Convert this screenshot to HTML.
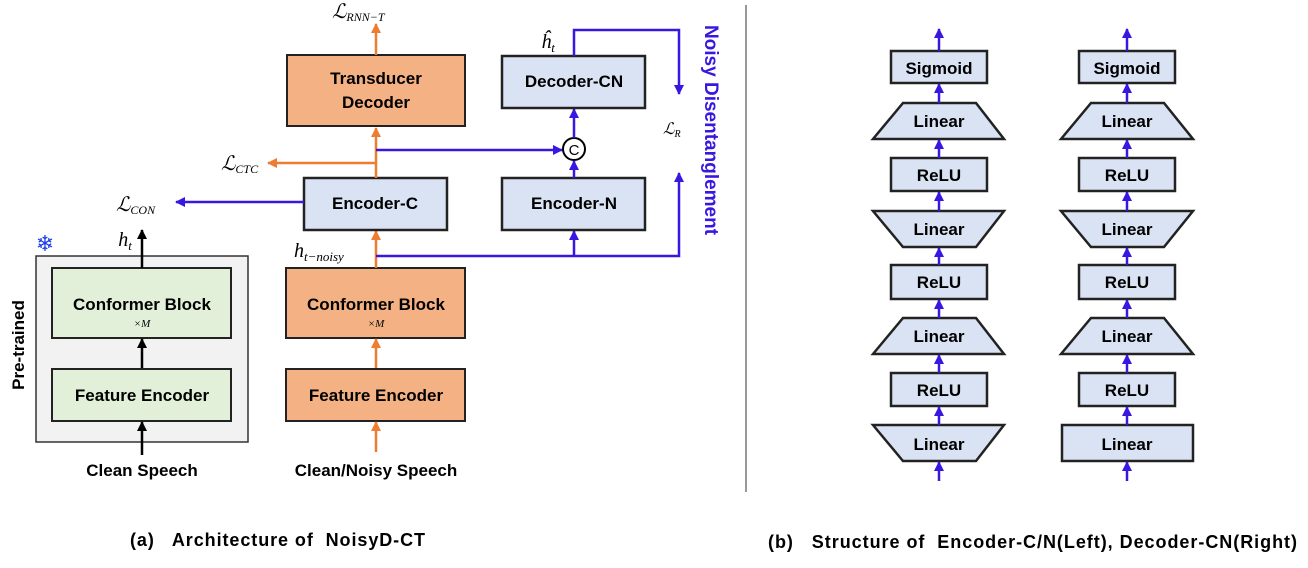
<!DOCTYPE html>
<html><head><meta charset="utf-8"><style>
body{margin:0;background:#fff}
svg text{font-family:"Liberation Sans",sans-serif}
.b{font-weight:bold;font-size:17px;fill:#000}
.m{font-family:"Liberation Serif",serif;font-style:italic}
.cap{white-space:pre}
</style></head><body>
<svg width="1308" height="563" viewBox="0 0 1308 563" xmlns="http://www.w3.org/2000/svg">
<defs>
<marker id="ab" markerWidth="10" markerHeight="10" refX="9" refY="5" orient="auto" markerUnits="userSpaceOnUse"><path d="M0,0 L10,5 L0,10 z" fill="#3a17e0"/></marker>
<marker id="ao" markerWidth="10" markerHeight="10" refX="9" refY="5" orient="auto" markerUnits="userSpaceOnUse"><path d="M0,0 L10,5 L0,10 z" fill="#ed7d31"/></marker>
<marker id="ak" markerWidth="10" markerHeight="10" refX="9" refY="5" orient="auto" markerUnits="userSpaceOnUse"><path d="M0,0 L10,5 L0,10 z" fill="#000"/></marker>
</defs>
<!-- pretrained -->
<rect x="36" y="256" width="212" height="186" fill="#f2f2f2" stroke="#333" stroke-width="1.5"/>
<rect x="52" y="268" width="179" height="70" fill="#e2f0d9" stroke="#222" stroke-width="2"/>
<text x="142" y="310" class="b" text-anchor="middle">Conformer Block</text>
<text x="142" y="327" font-size="11" class="m" text-anchor="middle">×M</text>
<rect x="52" y="369" width="179" height="52" fill="#e2f0d9" stroke="#222" stroke-width="2"/>
<text x="142" y="401" class="b" text-anchor="middle">Feature Encoder</text>
<text transform="translate(24,345) rotate(-90)" class="b" text-anchor="middle">Pre-trained</text>
<text x="45" y="251" font-size="22" fill="#1a3ee8" text-anchor="middle">❄</text>
<line x1="142" y1="455" x2="142" y2="422" stroke="#000" stroke-width="2.5" marker-end="url(#ak)"/>
<line x1="142" y1="368" x2="142" y2="339" stroke="#000" stroke-width="2.5" marker-end="url(#ak)"/>
<line x1="142" y1="268" x2="142" y2="230" stroke="#000" stroke-width="2.5" marker-end="url(#ak)"/>
<text x="125" y="246" font-size="20" class="m" text-anchor="middle">h<tspan font-size="13" dy="4">t</tspan></text>
<text x="142" y="476" class="b" text-anchor="middle">Clean Speech</text>
<!-- orange stack -->
<rect x="286" y="268" width="179" height="70" fill="#f4b183" stroke="#222" stroke-width="2"/>
<text x="376" y="310" class="b" text-anchor="middle">Conformer Block</text>
<text x="376" y="327" font-size="11" class="m" text-anchor="middle">×M</text>
<rect x="286" y="369" width="179" height="52" fill="#f4b183" stroke="#222" stroke-width="2"/>
<text x="376" y="401" class="b" text-anchor="middle">Feature Encoder</text>
<text x="376" y="476" class="b" text-anchor="middle">Clean/Noisy Speech</text>
<line x1="376" y1="452" x2="376" y2="422" stroke="#ed7d31" stroke-width="2.5" marker-end="url(#ao)"/>
<line x1="376" y1="368" x2="376" y2="339" stroke="#ed7d31" stroke-width="2.5" marker-end="url(#ao)"/>
<line x1="376" y1="268" x2="376" y2="231" stroke="#ed7d31" stroke-width="2.5" marker-end="url(#ao)"/>
<text x="294" y="257" font-size="20" class="m">h<tspan font-size="13" dy="4">t−noisy</tspan></text>
<polyline points="376,256 679,256 679,173" fill="none" stroke="#3a17e0" stroke-width="2.5" marker-end="url(#ab)"/>
<line x1="574" y1="256" x2="574" y2="231" stroke="#3a17e0" stroke-width="2.5" marker-end="url(#ab)"/>
<!-- encoders -->
<rect x="304" y="178" width="143" height="52" fill="#dae3f3" stroke="#222" stroke-width="2.5"/>
<text x="375" y="209" class="b" text-anchor="middle">Encoder-C</text>
<rect x="502" y="178" width="143" height="52" fill="#dae3f3" stroke="#222" stroke-width="2.5"/>
<text x="574" y="209" class="b" text-anchor="middle">Encoder-N</text>
<line x1="304" y1="202" x2="176" y2="202" stroke="#3a17e0" stroke-width="2.5" marker-end="url(#ab)"/>
<text x="116" y="211" font-size="20" class="m">ℒ<tspan font-size="12" dy="3">CON</tspan></text>
<line x1="376" y1="178" x2="376" y2="128" stroke="#ed7d31" stroke-width="2.5" marker-end="url(#ao)"/>
<line x1="376" y1="163" x2="268" y2="163" stroke="#ed7d31" stroke-width="2.5" marker-end="url(#ao)"/>
<text x="221" y="170" font-size="20" class="m">ℒ<tspan font-size="12" dy="3">CTC</tspan></text>
<line x1="376" y1="150" x2="562" y2="150" stroke="#3a17e0" stroke-width="2.5" marker-end="url(#ab)"/>
<circle cx="574" cy="149" r="11" fill="#fff" stroke="#000" stroke-width="2"/>
<text x="574" y="155" font-size="15" text-anchor="middle">C</text>
<line x1="574" y1="178" x2="574" y2="161" stroke="#3a17e0" stroke-width="2.5" marker-end="url(#ab)"/>
<line x1="574" y1="138" x2="574" y2="109" stroke="#3a17e0" stroke-width="2.5" marker-end="url(#ab)"/>
<rect x="502" y="56" width="143" height="52" fill="#dae3f3" stroke="#222" stroke-width="2.5"/>
<text x="574" y="87" class="b" text-anchor="middle">Decoder-CN</text>
<polyline points="574,56 574,30 679,30 679,94" fill="none" stroke="#3a17e0" stroke-width="2.5" marker-end="url(#ab)"/>
<text x="548" y="48" font-size="20" class="m" text-anchor="middle">ĥ<tspan font-size="13" dy="4">t</tspan></text>
<text x="663" y="134" font-size="16" class="m">ℒ<tspan font-size="10" dy="3">R</tspan></text>
<text transform="translate(705,130) rotate(90)" font-size="19" font-weight="bold" fill="#3a17e0" text-anchor="middle">Noisy Disentanglement</text>
<rect x="287" y="55" width="178" height="71" fill="#f4b183" stroke="#222" stroke-width="2"/>
<text x="376" y="84" class="b" text-anchor="middle">Transducer</text>
<text x="376" y="108" class="b" text-anchor="middle">Decoder</text>
<line x1="376" y1="55" x2="376" y2="24" stroke="#ed7d31" stroke-width="2.5" marker-end="url(#ao)"/>
<text x="332" y="18" font-size="20" class="m">ℒ<tspan font-size="12" dy="3">RNN−T</tspan></text>
<text x="130" y="546" font-size="18" font-weight="bold" class="cap" xml:space="preserve" textLength="295" lengthAdjust="spacing">(a)   Architecture of  NoisyD-CT</text>
<!-- divider -->
<line x1="746" y1="5" x2="746" y2="492" stroke="#333" stroke-width="1"/>
<!-- right panel -->
<g stroke="#222" stroke-width="2.5" fill="#dae3f3">
<rect x="891" y="51" width="96" height="32"/>
<polygon points="873,139 903,103 976,103 1004,139"/>
<rect x="891" y="158" width="96" height="33"/>
<polygon points="873,211 1004,211 976,247 903,247"/>
<rect x="891" y="265" width="96" height="34"/>
<polygon points="873,354 903,318 976,318 1004,354"/>
<rect x="891" y="373" width="96" height="33"/>
<polygon points="873,425 1004,425 976,461 903,461"/>
<rect x="1079" y="51" width="96" height="32"/>
<polygon points="1061,139 1091,103 1164,103 1193,139"/>
<rect x="1079" y="158" width="96" height="33"/>
<polygon points="1061,211 1193,211 1164,247 1091,247"/>
<rect x="1079" y="265" width="96" height="34"/>
<polygon points="1061,354 1091,318 1164,318 1193,354"/>
<rect x="1079" y="373" width="96" height="33"/>
<rect x="1062" y="425" width="131" height="36"/>
</g>
<g class="b" text-anchor="middle" font-weight="bold" font-size="18">
<text x="939" y="74">Sigmoid</text><text x="939" y="127">Linear</text><text x="939" y="181">ReLU</text><text x="939" y="235">Linear</text><text x="939" y="288">ReLU</text><text x="939" y="342">Linear</text><text x="939" y="396">ReLU</text><text x="939" y="450">Linear</text>
<text x="1127" y="74">Sigmoid</text><text x="1127" y="127">Linear</text><text x="1127" y="181">ReLU</text><text x="1127" y="235">Linear</text><text x="1127" y="288">ReLU</text><text x="1127" y="342">Linear</text><text x="1127" y="396">ReLU</text><text x="1127" y="450">Linear</text>
</g>
<g stroke="#3a17e0" stroke-width="2.5" marker-end="url(#ab)">
<line x1="939" y1="51" x2="939" y2="29"/><line x1="939" y1="103" x2="939" y2="84"/><line x1="939" y1="158" x2="939" y2="140"/><line x1="939" y1="211" x2="939" y2="192"/><line x1="939" y1="265" x2="939" y2="248"/><line x1="939" y1="318" x2="939" y2="300"/><line x1="939" y1="373" x2="939" y2="355"/><line x1="939" y1="425" x2="939" y2="407"/><line x1="939" y1="481" x2="939" y2="462"/>
<line x1="1127" y1="51" x2="1127" y2="29"/><line x1="1127" y1="103" x2="1127" y2="84"/><line x1="1127" y1="158" x2="1127" y2="140"/><line x1="1127" y1="211" x2="1127" y2="192"/><line x1="1127" y1="265" x2="1127" y2="248"/><line x1="1127" y1="318" x2="1127" y2="300"/><line x1="1127" y1="373" x2="1127" y2="355"/><line x1="1127" y1="425" x2="1127" y2="407"/><line x1="1127" y1="481" x2="1127" y2="462"/>
</g>
<text x="768" y="548" font-size="18" font-weight="bold" class="cap" xml:space="preserve" textLength="529" lengthAdjust="spacing">(b)   Structure of  Encoder-C/N(Left), Decoder-CN(Right)</text>
</svg>
</body></html>
